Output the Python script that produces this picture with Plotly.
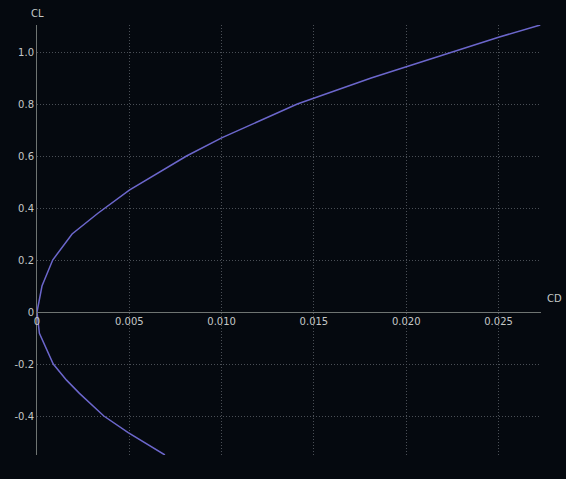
import plotly.graph_objects as go

# Drag polar: lift coefficient (CL) vs drag coefficient (CD)
cl = [-0.55, -0.464, -0.40, -0.313, -0.262, -0.20, -0.082, 0.0,
      0.10, 0.20, 0.30, 0.38, 0.469, 0.60, 0.67, 0.80, 0.90,
      0.943, 1.00, 1.057, 1.104]
cd = [0.00693, 0.00494, 0.00362, 0.0023, 0.0016, 0.00088, 0.00013, 0.0,
      0.00027, 0.00085, 0.0019, 0.0033, 0.0050, 0.0081, 0.0100, 0.0141, 0.0181,
      0.0200, 0.02244, 0.0250, 0.02726]

x_ticks = [0, 0.005, 0.010, 0.015, 0.020, 0.025]
x_labels = ["0", "0.005", "0.010", "0.015", "0.020", "0.025"]
y_ticks = [-0.4, -0.2, 0, 0.2, 0.4, 0.6, 0.8, 1.0]
y_labels = ["-0.4", "-0.2", "0", "0.2", "0.4", "0.6", "0.8", "1.0"]

x_range = [0, 0.0273]
y_range = [-0.55, 1.104]

bg = "#05090f"
axis_col = "#6f7472"
grid_col = "#4a4f56"
text_col = "#c4c7c7"
font = dict(family="DejaVu Sans", size=10, color=text_col)

fig = go.Figure()
fig.add_trace(go.Scatter(
    x=cd, y=cl, mode="lines",
    line=dict(color="#6c67cc", width=1.5),
    hoverinfo="skip", showlegend=False,
))

zero_pos = (0 - y_range[0]) / (y_range[1] - y_range[0])

fig.update_layout(
    width=566, height=479,
    margin=dict(l=37, r=25, t=25, b=24),
    paper_bgcolor=bg, plot_bgcolor=bg,
    font=font,
    xaxis=dict(
        range=x_range, tickvals=x_ticks, ticktext=x_labels,
        anchor="free", position=zero_pos,
        showline=True, linecolor=axis_col, linewidth=1,
        showgrid=True, gridcolor=grid_col, griddash="1px,2px", gridwidth=1,
        zeroline=False, ticks="", ticklen=0, tickfont=font,
    ),
    yaxis=dict(
        range=y_range, tickvals=y_ticks, ticktext=y_labels,
        showline=True, linecolor=axis_col, linewidth=1,
        showgrid=True, gridcolor=grid_col, griddash="1px,2px", gridwidth=1,
        zeroline=False, ticks="", ticklen=0, tickfont=font,
    ),
    annotations=[
        dict(text="CL", xref="x", yref="paper", x=0, y=1, yshift=4,
             xanchor="center", yanchor="bottom", showarrow=False, font=font),
        dict(text="CD", xref="paper", yref="y", x=1, y=0, xshift=4, yshift=6,
             xanchor="left", yanchor="bottom", showarrow=False, font=font),
    ],
)

fig.write_html("out.html")
